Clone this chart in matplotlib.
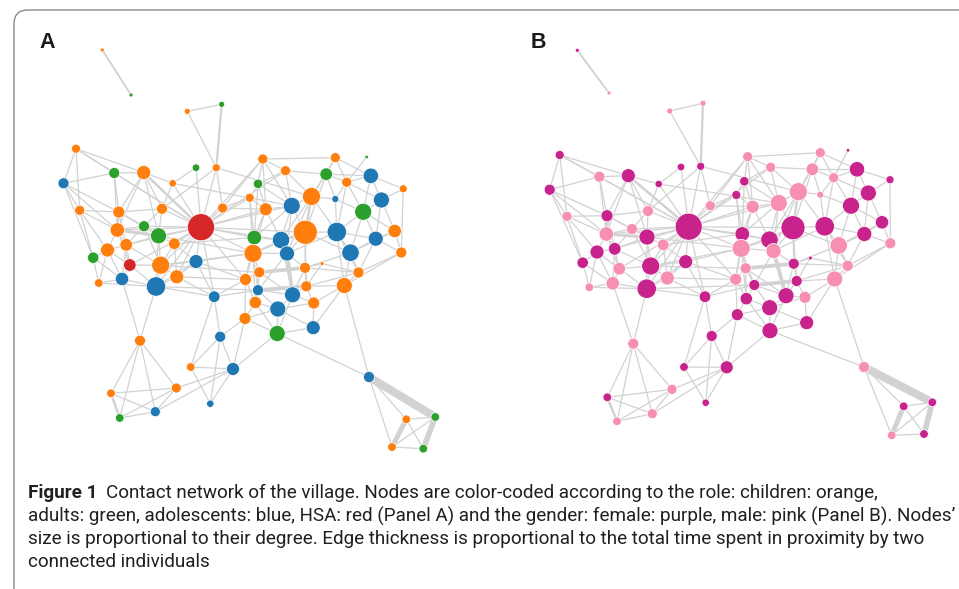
import matplotlib.pyplot as plt
from matplotlib.collections import LineCollection
from matplotlib.patches import FancyBboxPatch

# node layout (pixel coords), panel A and panel B
xa = [102.3, 131, 187.3, 221.7, 76, 63.5, 114.2, 143.7, 196, 216.3,
      172.7, 79.7, 118.8, 162, 222.5, 201, 117.3, 144, 158.5, 174.3,
      126.2, 107.5, 93.2, 196, 129.8, 160.7, 98.7, 122, 176.8, 156,
      214.2, 262.8, 335.3, 366.7, 285.5, 326.2, 370.8, 258, 346.7, 403.2,
      249.7, 311.5, 335.3, 381.4, 265.7, 291.7, 363.2, 305.3, 336.8, 281,
      254.3, 394.7, 253, 287, 350.5, 375.7, 401.3, 305, 322, 259.3,
      358.5, 245.5, 258, 306.3, 344.3, 292.5, 255.3, 313.7, 277.8, 245,
      277.2, 313.2, 220.2, 140, 190.7, 233, 176.3, 111, 155.3, 210.3,
      119.7, 369, 406.3, 435.3, 392, 423.3]
ya = [50, 95, 111.3, 104.3, 148.7, 183.3, 173, 172.5, 167.7, 167.7,
      183.3, 210.3, 212, 208.8, 208, 227.2, 230, 226.2, 235.8, 243.7,
      244.8, 250, 257.7, 261.5, 265, 265.2, 283, 279, 276.8, 286.5,
      296.7, 159, 157.7, 157, 170.7, 174.2, 175.8, 183.8, 182.2, 188.8,
      197.7, 196.5, 199, 200, 209.3, 205.8, 211.8, 232.3, 232, 240,
      237.5, 231, 253.3, 253.5, 252.7, 238.7, 252.5, 267.8, 263.5, 272.3,
      272.5, 279.5, 290.2, 286.3, 285.5, 294.8, 302.5, 303, 309, 318.5,
      333.5, 327.7, 336.7, 340.7, 367, 369, 388, 393.3, 411.7, 403.7,
      418, 377, 419.3, 417, 447, 448.7]
xb = [577.3, 609, 669.7, 703, 559.7, 549.7, 599.3, 628.3, 681, 700.7,
      658.7, 567, 607, 648, 710.3, 688.7, 606.3, 632, 647, 663.2,
      614.7, 597, 582.7, 685.7, 619.3, 650.7, 589.3, 612.7, 667.3, 646.7,
      705, 747.7, 820.3, 848, 770.7, 812.3, 857, 744.3, 833.7, 890,
      736.3, 798.3, 820.3, 868.3, 752.7, 778.7, 851, 793, 824.7, 769.5,
      742.3, 882, 741.2, 773.5, 838.7, 864.3, 890.3, 793.7, 810.3, 745.7,
      847.7, 735.7, 754.3, 796.7, 834.7, 786, 746.3, 805, 769.7, 737.3,
      770, 806.7, 711.7, 633.3, 684, 726.7, 672, 607.3, 652.3, 705.7,
      617, 864, 903.7, 932.3, 891.7, 924]
yb = [50.3, 93, 111, 103.3, 155, 189.7, 176.7, 175.7, 167, 166.3,
      184, 216.3, 215.7, 211, 205.7, 226.7, 234, 229, 237, 244.8,
      248.8, 252, 262.7, 261.7, 268.7, 266, 287.3, 283.3, 278, 288.7,
      296.7, 156.7, 152.7, 150.3, 167.3, 169.3, 169.3, 181.3, 177.7, 179.7,
      195, 191.7, 194.7, 193, 206.7, 203, 205.7, 227.7, 226.3, 239.7,
      234, 222.3, 248.3, 251, 245.5, 234, 243.3, 263.7, 258, 268.3,
      265.7, 279.3, 285, 281, 279, 295.7, 298.7, 297.3, 307.7, 314.7,
      330.7, 322.7, 336, 343.7, 367, 367.3, 389.3, 397.3, 413.7, 402.7,
      421.3, 367, 406.3, 402.3, 435.3, 434]
radius = [2, 2, 3, 3, 4.5, 5.5, 5.5, 7, 3.8, 4,
          3.7, 5, 6, 5.5, 5, 13.5, 7.2, 5.5, 8, 5.8,
          6.3, 7, 5.7, 7, 6.3, 9, 4.3, 6.7, 7, 9.7,
          5.8, 5, 5, 1.8, 5, 6.3, 7.7, 4.7, 5, 4,
          4.5, 9, 3.5, 8, 6.5, 8.5, 8.5, 12, 9.7, 8.7,
          7.3, 6.7, 9, 7.5, 8.7, 7.5, 5.5, 5.5, 2, 5.5,
          5.5, 6, 5.5, 5.5, 8, 8, 6.2, 6, 8, 6,
          8, 7, 5.5, 5.5, 4.3, 6.5, 5, 4.3, 5, 3.7,
          4.3, 5.5, 4.3, 4.3, 4.3, 4.3]
# o children, g adults, b adolescents, r HSA
role = list("ogogobgogo" "oooooroggo" "oogbroobob" "boogogbgoo"
            "oobbobgobb" "goobbboooo" "oobooboobo" "gbbooboobb"
            "gbogog")
# F female, M male
gender = list("FMMMFFMFFF" "FMFMMFMMFM" "FFFFMFMMMF" "FMMFMMFFMF"
              "FMMFMMFFFF" "FFMMMFMFFM" "MMFFMFFMFF" "FFFMFFMFMF"
              "MMFFMF")

edges = [
    (0, 1), (2, 3), (2, 9), (3, 9),
    (4, 5), (4, 6), (4, 7), (4, 11), (4, 15),
    (5, 6), (5, 11), (5, 12), (5, 22), (5, 16),
    (6, 7), (6, 12), (6, 15), (6, 16),
    (7, 12), (7, 13), (7, 15), (7, 16), (7, 10), (7, 18),
    (8, 10), (8, 15), (9, 15), (9, 14), (9, 13), (9, 41),
    (10, 15), (10, 13), (10, 45),
    (11, 12), (11, 21), (11, 22), (11, 16),
    (12, 13), (12, 16), (12, 17), (12, 20), (12, 18),
    (13, 15), (13, 17), (13, 18),
    (14, 15), (14, 40), (14, 44), (14, 31),
    (15, 16), (15, 17), (15, 18), (15, 19), (15, 23), (15, 25), (15, 28),
    (15, 29), (15, 30), (15, 31), (15, 34), (15, 40), (15, 44), (15, 45),
    (15, 47), (15, 49), (15, 50), (15, 52), (15, 61), (15, 20), (15, 24),
    (16, 17), (16, 20), (16, 21), (16, 18), (16, 24),
    (17, 18), (17, 20), (17, 25),
    (18, 19), (18, 25), (18, 20), (18, 29), (18, 52),
    (19, 23), (19, 25), (19, 28), (19, 50),
    (20, 21), (20, 24), (20, 27), (20, 25),
    (21, 22), (21, 24), (21, 27), (21, 26),
    (22, 26), (22, 27),
    (23, 25), (23, 28), (23, 30), (23, 61), (23, 52), (23, 29),
    (24, 25), (24, 27), (24, 29),
    (25, 28), (25, 29), (25, 52), (25, 59),
    (26, 27), (26, 29), (27, 29), (27, 73),
    (28, 29), (28, 61), (28, 30),
    (29, 62), (29, 73), (29, 30),
    (30, 61), (30, 74), (30, 72), (30, 62),
    (31, 32), (31, 34), (31, 37), (31, 44), (31, 45),
    (32, 35), (32, 38), (32, 36), (32, 41), (33, 38),
    (34, 35), (34, 41), (34, 45), (34, 37),
    (35, 36), (35, 41), (35, 42), (35, 38), (35, 47),
    (36, 38), (36, 39), (36, 43), (36, 46),
    (37, 40), (37, 44), (37, 45), (37, 50),
    (38, 43), (38, 46), (38, 42), (38, 48),
    (39, 43), (39, 56),
    (40, 44), (40, 50), (40, 52),
    (41, 42), (41, 45), (41, 47), (41, 48), (41, 49), (41, 53),
    (42, 48), (42, 46),
    (43, 46), (43, 51), (43, 55),
    (44, 45), (44, 50), (44, 49), (44, 52),
    (45, 47), (45, 49), (45, 53), (45, 50),
    (46, 48), (46, 51), (46, 55), (46, 54),
    (47, 48), (47, 49), (47, 53), (47, 54), (47, 57), (47, 63), (47, 52),
    (48, 54), (48, 55), (48, 60), (48, 64), (48, 53),
    (49, 50), (49, 52), (49, 53), (49, 65),
    (50, 52), (50, 61),
    (51, 54), (51, 56), (51, 55),
    (52, 53), (52, 59), (52, 61), (52, 62), (52, 66),
    (53, 57), (53, 65), (53, 62),
    (54, 55), (54, 60), (54, 64), (54, 57),
    (55, 56), (55, 60), (56, 60), (56, 64),
    (57, 58), (57, 59), (57, 63), (57, 65), (57, 60),
    (58, 60), (58, 63),
    (59, 61), (59, 62), (59, 66), (59, 65),
    (60, 64), (60, 63), (61, 66), (61, 69),
    (62, 63), (62, 65), (62, 66), (62, 68),
    (63, 64), (63, 65), (63, 67),
    (64, 67), (64, 71), (64, 81),
    (65, 68), (65, 67), (65, 70),
    (66, 68), (66, 69), (66, 70),
    (67, 71), (67, 68),
    (68, 70), (68, 71), (68, 69),
    (69, 70), (69, 72), (69, 75),
    (70, 71), (70, 81), (70, 75),
    (72, 74), (72, 75), (72, 79),
    (73, 76), (73, 77), (73, 80), (73, 78),
    (74, 75), (74, 79), (75, 79), (75, 76), (75, 78),
    (76, 77), (76, 78), (76, 80),
    (77, 80), (77, 78), (78, 80),
    (81, 82), (81, 83), (81, 84),
    (82, 83), (82, 84), (82, 85),
    (83, 84), (83, 85), (84, 85),
]
# proximity time for the heavier links (others are 1)
heavy = {(81, 83): 6.5, (82, 84): 4, (83, 85): 4.5, (57, 59): 3, (62, 63): 3,
         (53, 65): 3, (16, 18): 2.5, (77, 80): 2, (7, 15): 2, (41, 47): 2,
         (3, 9): 1.8, (0, 1): 1.5, (12, 16): 2}

role_col = {'o': '#ff7f0e', 'g': '#2ca02c', 'b': '#1f77b4', 'r': '#d62728'}
gender_col = {'F': '#c8238c', 'M': '#f78fb3'}

fig = plt.figure(figsize=(9.59, 5.89), dpi=100)
ax = fig.add_axes([0, 0, 1, 1])
ax.set_xlim(0, 959)
ax.set_ylim(589, 0)
ax.axis('off')

# frame of the figure box
ax.add_patch(FancyBboxPatch((14, 10), 980, 620, boxstyle='round,pad=0,rounding_size=14',
                            fc='none', ec='#8a8a8a', lw=1.0))


def draw_net(x, y, cols):
    segs = [[(x[i], y[i]), (x[j], y[j])] for i, j in edges]
    w = [heavy.get(e, 1) for e in edges]
    lc = LineCollection(segs, colors='#d2d2d2', linewidths=[0.9 * v for v in w],
                        capstyle='butt', zorder=1)
    ax.add_collection(lc)
    s = [(2 * r * 0.72) ** 2 for r in radius]
    ax.scatter(x, y, s=s, c=cols, edgecolors='white', linewidths=0.5, zorder=2)


draw_net(xa, ya, [role_col[k] for k in role])
draw_net(xb, yb, [gender_col[k] for k in gender])

ax.text(47, 42, 'A', fontsize=15.5, fontweight='bold', family='Liberation Sans',
        ha='center', va='center', color='#1a1a1a')
ax.text(538, 42, 'B', fontsize=15.5, fontweight='bold', family='Liberation Sans',
        ha='center', va='center', color='#1a1a1a')

# caption
cap_font = ['Roboto', 'Liberation Sans']
lines = ["Contact network of the village. Nodes are color-coded according to the role: children: orange,",
         "adults: green, adolescents: blue, HSA: red (Panel A) and the gender: female: purple, male: pink (Panel B). Nodes\u2019",
         "size is proportional to their degree. Edge thickness is proportional to the total time spent in proximity by two",
         "connected individuals"]
line_y = [493, 516, 539, 562]
tc = '#231f20'

fig.canvas.draw()
rend = fig.canvas.get_renderer()
probe = ax.text(28, line_y[1], lines[1], fontsize=12, family=cap_font, va='center')
fs = 12 * 926 / probe.get_window_extent(rend).width
probe.remove()

lab = ax.text(28, line_y[0], 'Figure 1', fontsize=fs, family=cap_font,
              fontweight='bold', va='center', color=tc)
lw_px = lab.get_window_extent(rend).width
ax.text(28 + lw_px + 9, line_y[0], lines[0], fontsize=fs, family=cap_font,
        va='center', color=tc)
for txt, yy in zip(lines[1:], line_y[1:]):
    ax.text(28, yy, txt, fontsize=fs, family=cap_font, va='center', color=tc)

fig.savefig('out.png', dpi=100)
